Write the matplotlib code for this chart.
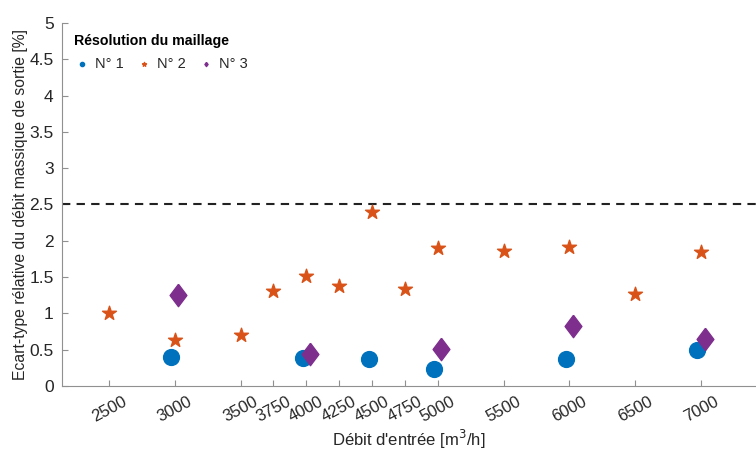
import numpy as np
import matplotlib
matplotlib.use("Agg")
import matplotlib.pyplot as plt

plt.rcParams['font.family'] = ['Liberation Sans', 'DejaVu Sans']

# débits d'entrée (m3/h) et écarts-types (%)
q_n1 = [3000, 4000, 4500, 5000, 6000, 7000]
e_n1 = [0.40, 0.38, 0.37, 0.24, 0.37, 0.50]

q_n2 = [2500, 3000, 3500, 3750, 4000, 4250, 4500, 4750, 5000, 5500, 6000, 6500, 7000]
e_n2 = [1.00, 0.64, 0.70, 1.31, 1.51, 1.38, 2.40, 1.33, 1.90, 1.86, 1.92, 1.27, 1.84]

q_n3 = [3000, 4000, 5000, 6000, 7000]
e_n3 = [1.25, 0.44, 0.51, 0.83, 0.65]

xticks = [2500, 3000, 3500, 3750, 4000, 4250, 4500, 4750, 5000, 5500, 6000, 6500, 7000]
seuil = 2.5

blue = '#0072BD'
orange = '#D95319'
purple = '#7E2F8E'
grey = '#262626'

# losange un peu allongé (style MATLAB)
diamond = [(0, 1), (0.75, 0), (0, -1), (-0.75, 0), (0, 1)]

fig = plt.figure(figsize=(7.56, 4.55), dpi=100)
ax = fig.add_axes([62/756, 1 - 386/455, 1 - 62/756, (386 - 23)/455])

dx = 27  # petit décalage pour séparer les maillages
ax.scatter(np.array(q_n1) - dx, e_n1, s=130, marker='o', color=blue, label='N° 1', zorder=3)
ax.scatter(q_n2, e_n2, s=110, marker='*', color=orange, label='N° 2', zorder=3)
ax.scatter(np.array(q_n3) + dx, e_n3, s=260, marker=diamond, color=purple, label='N° 3', zorder=4)

ax.axhline(seuil, color='#222222', ls=(0, (4, 3)), lw=1.5, zorder=2)

ax.set_xlim(2143, 7418)
ax.set_ylim(0, 5)
ax.set_xticks(xticks)
ax.set_xticklabels([str(t) for t in xticks], rotation=28, fontsize=12, color=grey)
ax.set_yticks(np.arange(0, 5.01, 0.5))
ax.set_yticklabels(['0', '0.5', '1', '1.5', '2', '2.5', '3', '3.5', '4', '4.5', '5'],
                   fontsize=12.5, color=grey)
ax.tick_params(direction='in', length=4, color='#909090', pad=6)

for s in ['top', 'right']:
    ax.spines[s].set_visible(False)
for s in ['left', 'bottom']:
    ax.spines[s].set_color('#909090')
    ax.spines[s].set_linewidth(0.8)

ax.set_xlabel("Débit d'entrée [m$^3$/h]", fontsize=12, color=grey, labelpad=2)
ax.set_ylabel('Ecart-type rélative du débit massique de sortie [%]', fontsize=11.3,
              color=grey, labelpad=1)

leg = ax.legend(title='Résolution du maillage', ncol=3, loc='upper left',
                bbox_to_anchor=(0.005, 0.995), frameon=False, markerscale=0.25,
                fontsize=10.5, title_fontproperties={'weight': 'bold', 'size': 10.2},
                handlelength=1.0, handletextpad=0.4, columnspacing=0.9,
                borderaxespad=0.2, labelspacing=0.2)
leg._legend_box.align = 'left'
leg._legend_box.sep = 7
for t in leg.get_texts():
    t.set_color(grey)
for h in leg.legend_handles:
    h.set_sizes([9])

fig.savefig('out.png', dpi=100)
